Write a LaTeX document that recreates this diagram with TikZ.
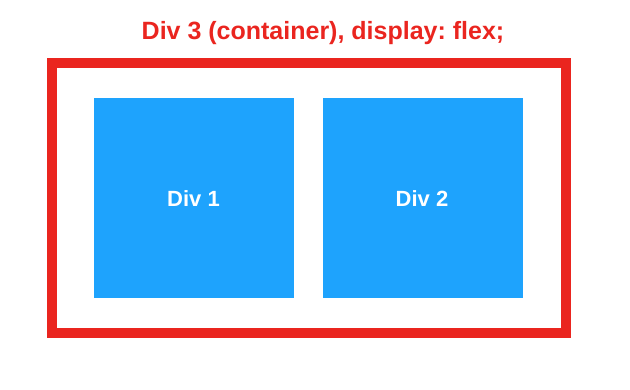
\documentclass[tikz,border=0pt]{standalone}
\usepackage{fontspec}
\setmainfont{Liberation Sans}
\frenchspacing
\definecolor{cred}{RGB}{234,37,31}
\definecolor{cblue}{RGB}{30,163,253}
\begin{document}
\begin{tikzpicture}[x=1pt,y=1pt,
  divlabel/.style={text=white, font=\bfseries\fontsize{22}{26}\selectfont, anchor=base, inner sep=0pt},
  titlelabel/.style={text=cred, font=\bfseries\fontsize{25}{30}\selectfont, anchor=base, inner sep=0pt}]
\useasboundingbox (0,0) rectangle (630,390);
\node[titlelabel] (title) at (323,350) {\frenchspacing Div 3 (container), display: flex;};
\draw[cred, line width=10pt] (52,57) rectangle (566,327);
\fill[cblue] (94,92) rectangle (294,292);
\fill[cblue] (323,92) rectangle (523,292);
\node[divlabel] (d1) at (193.5,183.7) {Div 1};
\node[divlabel] (d2) at (422,183.7) {Div 2};
\end{tikzpicture}
\end{document}
